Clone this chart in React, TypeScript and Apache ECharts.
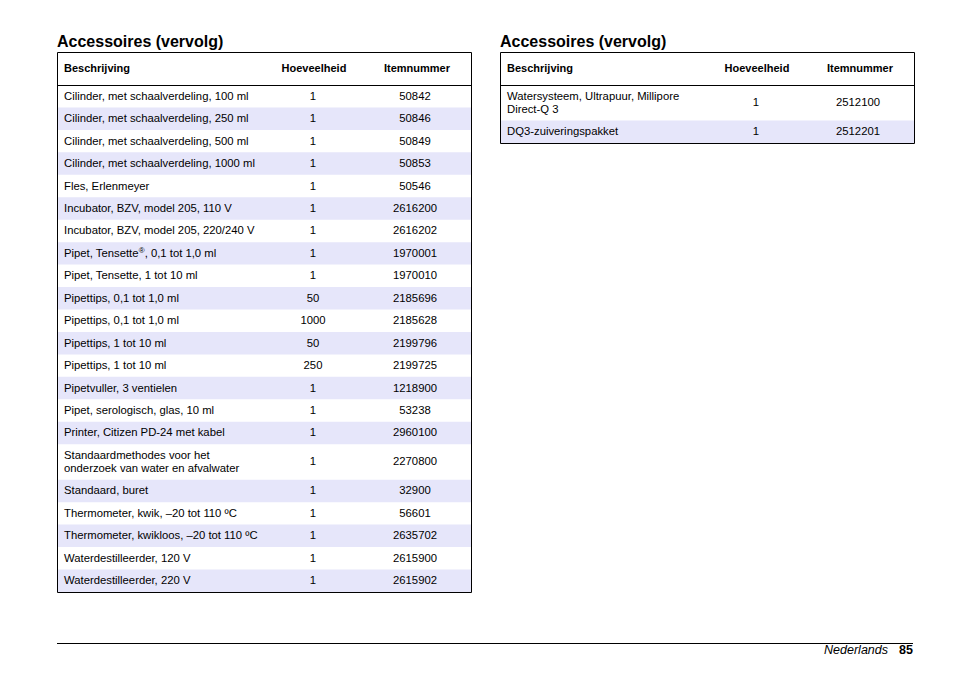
import React, { useEffect, useRef } from "react";
import * as echarts from "echarts";

const pageTitle = "Accessoires (vervolg)";
const headers = ["Beschrijving", "Hoeveelheid", "Itemnummer"];

const leftDesc = [
  "Cilinder, met schaalverdeling, 100 ml",
  "Cilinder, met schaalverdeling, 250 ml",
  "Cilinder, met schaalverdeling, 500 ml",
  "Cilinder, met schaalverdeling, 1000 ml",
  "Fles, Erlenmeyer",
  "Incubator, BZV, model 205, 110 V",
  "Incubator, BZV, model 205, 220/240 V",
  "Pipet, Tensette{sup|®}, 0,1 tot 1,0 ml",
  "Pipet, Tensette, 1 tot 10 ml",
  "Pipettips, 0,1 tot 1,0 ml",
  "Pipettips, 0,1 tot 1,0 ml",
  "Pipettips, 1 tot 10 ml",
  "Pipettips, 1 tot 10 ml",
  "Pipetvuller, 3 ventielen",
  "Pipet, serologisch, glas, 10 ml",
  "Printer, Citizen PD-24 met kabel",
  "Standaardmethodes voor het\nonderzoek van water en afvalwater",
  "Standaard, buret",
  "Thermometer, kwik, –20 tot 110 ºC",
  "Thermometer, kwikloos, –20 tot 110 ºC",
  "Waterdestilleerder, 120 V",
  "Waterdestilleerder, 220 V",
];
const leftQty = [1, 1, 1, 1, 1, 1, 1, 1, 1, 50, 1000, 50, 250, 1, 1, 1, 1, 1, 1, 1, 1, 1];
const leftItem = [
  "50842", "50846", "50849", "50853", "50546", "2616200", "2616202", "1970001",
  "1970010", "2185696", "2185628", "2199796", "2199725", "1218900", "53238",
  "2960100", "2270800", "32900", "56601", "2635702", "2615900", "2615902",
];

const rightDesc = ["Watersysteem, Ultrapuur, Millipore\nDirect-Q 3", "DQ3-zuiveringspakket"];
const rightQty = [1, 1];
const rightItem = ["2512100", "2512201"];

const footerLang = "Nederlands";
const footerPage = "85";

const FONT = "Arial, 'Liberation Sans', Helvetica, sans-serif";
const SHADE = "#e6e6fa";

function buildTable(left: number, desc: string[], qty: number[], item: string[]) {
  const right = left + 414;
  const top = 52.5;
  const headBottom = 85;
  const els: any[] = [];
  let y = headBottom;
  const rowEls: any[] = [];
  desc.forEach((d, i) => {
    const lines = d.split("\n").length;
    const h = lines > 1 ? 35.5 : 22.45;
    if (i % 2 === 1) {
      els.push({
        type: "rect",
        shape: { x: left, y, width: right - left, height: h },
        style: { fill: SHADE },
        silent: true,
      });
    }
    const cy = y + h / 2 - 0.5;
    rowEls.push({
      type: "text",
      x: left + 7,
      y: cy,
      style: {
        text: d,
        fontSize: 11.3,
        fontFamily: FONT,
        fill: "#000",
        align: "left",
        verticalAlign: "middle",
        lineHeight: 12.5,
        rich: {
          sup: { fontSize: 8, fontFamily: FONT, fill: "#000", verticalAlign: "top", lineHeight: 7 },
        },
      },
    });
    rowEls.push({
      type: "text",
      x: left + 256,
      y: cy,
      style: { text: String(qty[i]), fontSize: 11.3, fontFamily: FONT, fill: "#000", align: "center", verticalAlign: "middle" },
    });
    rowEls.push({
      type: "text",
      x: left + 358,
      y: cy,
      style: { text: item[i], fontSize: 11.3, fontFamily: FONT, fill: "#000", align: "center", verticalAlign: "middle" },
    });
    y += h;
  });
  const bottom = Math.round(y) + 0.5;
  els.push(...rowEls);
  const hy = (top + headBottom) / 2 - 0.5;
  const hx = [left + 7, left + 257, left + 360];
  const ha = ["left", "center", "center"];
  headers.forEach((t, i) => {
    els.push({
      type: "text",
      x: hx[i],
      y: hy,
      style: { text: t, fontSize: 11, fontWeight: "bold", fontFamily: FONT, fill: "#000", align: ha[i], verticalAlign: "middle" },
    });
  });
  els.push({
    type: "line",
    shape: { x1: left, y1: headBottom + 0.5, x2: right, y2: headBottom + 0.5 },
    style: { stroke: "#000", lineWidth: 1 },
  });
  els.push({
    type: "rect",
    shape: { x: left + 0.5, y: top, width: right - left, height: bottom - top },
    style: { fill: "none", stroke: "#000", lineWidth: 1 },
  });
  els.push({
    type: "text",
    x: left,
    y: 41,
    style: { text: pageTitle, fontSize: 16, fontWeight: "bold", fontFamily: FONT, fill: "#000", align: "left", verticalAlign: "middle" },
  });
  return els;
}

export default function App() {
  const ref = useRef<HTMLDivElement>(null);
  useEffect(() => {
    if (!ref.current) return;
    const chart = echarts.init(ref.current, undefined, { renderer: "svg" });
    const graphic: any[] = [
      { type: "rect", shape: { x: 0, y: 0, width: 954, height: 673 }, style: { fill: "#fff" }, silent: true },
      ...buildTable(57, leftDesc, leftQty, leftItem),
      ...buildTable(500, rightDesc, rightQty, rightItem),
      {
        type: "line",
        shape: { x1: 57, y1: 643.5, x2: 913, y2: 643.5 },
        style: { stroke: "#000", lineWidth: 1 },
      },
      {
        type: "text",
        x: 888,
        y: 650,
        style: { text: footerLang, fontSize: 12.5, fontStyle: "italic", fontFamily: FONT, fill: "#000", align: "right", verticalAlign: "middle" },
      },
      {
        type: "text",
        x: 913,
        y: 650,
        style: { text: footerPage, fontSize: 12.5, fontWeight: "bold", fontFamily: FONT, fill: "#000", align: "right", verticalAlign: "middle" },
      },
    ];
    chart.setOption({ animation: false, graphic });
    return () => chart.dispose();
  }, []);
  return (
    <div
      ref={ref}
      style={{ position: "fixed", left: 0, top: 0, width: 954, height: 673, background: "#fff" }}
    />
  );
}
